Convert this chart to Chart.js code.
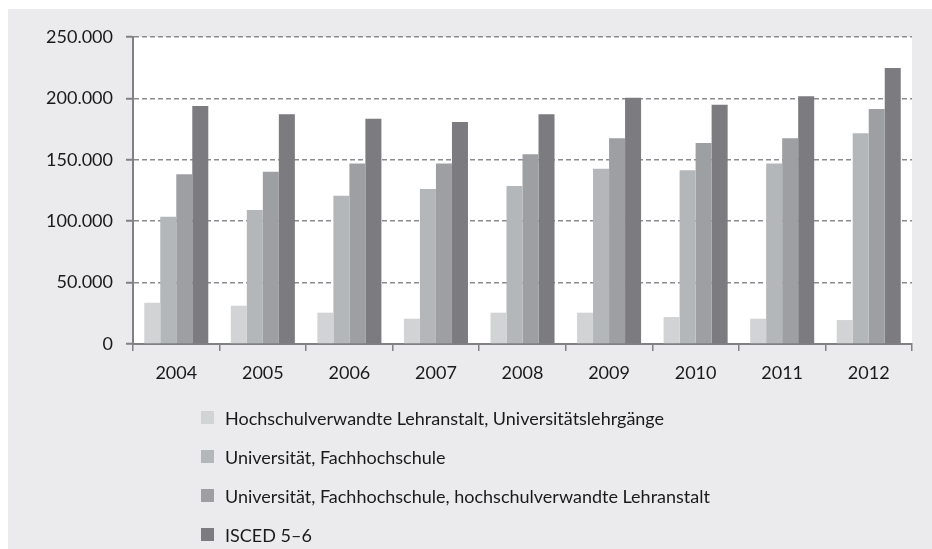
<!DOCTYPE html>
<html>
<head>
<meta charset="utf-8">
<script src="https://cdn.jsdelivr.net/npm/chart.js@4/dist/chart.umd.min.js"></script>
<style>
  html, body { margin: 0; padding: 0; background: #fff; }
  #wrap { position: relative; width: 932px; height: 549px; overflow: hidden; }
  #panel { position: absolute; left: 8px; top: 9px; right: 0; bottom: 0; background: #ebebed; }
  #chart { position: absolute; left: 0; top: 0; }
  #legend { position: absolute; left: 201px; top: 398px; font-family: Lato, sans-serif; font-size: 18px; color: #1a1a1a; }
  .item { height: 39px; display: flex; align-items: center; white-space: nowrap; }
  .box { width: 13px; height: 13px; margin-right: 11px; flex: none; }
</style>
</head>
<body>
<div id="wrap">
  <div id="panel"></div>
  <canvas id="chart" width="932" height="549"></canvas>
  <div id="legend"></div>
</div>
<script>
// Data
const years = ["2004", "2005", "2006", "2007", "2008", "2009", "2010", "2011", "2012"];
const seriesNames = [
  "Hochschulverwandte Lehranstalt, Universitätslehrgänge",
  "Universität, Fachhochschule",
  "Universität, Fachhochschule, hochschulverwandte Lehranstalt",
  "ISCED 5–6"
];
const lehranstalt = [33600, 31200, 25500, 20600, 25500, 25500, 22000, 20600, 19500];
const uniFh = [103700, 109100, 120800, 126200, 128700, 142800, 141400, 147000, 171600];
const uniFhLehr = [138200, 140300, 147000, 147000, 154500, 167500, 163700, 167500, 191400];
const isced = [193800, 187000, 183500, 180800, 187000, 200600, 194900, 201700, 224800];
const yTicks = [0, 50000, 100000, 150000, 200000, 250000];

const colors = ["#d1d3d4", "#b4b7ba", "#9d9fa3", "#7b7b80"];
const values = [lehranstalt, uniFh, uniFhLehr, isced];

Chart.defaults.font.family = "Lato, sans-serif";
Chart.defaults.font.size = 18;
Chart.defaults.color = "#1a1a1a";

// white plot area
const plotBg = {
  id: "plotBg",
  beforeDraw(chart) {
    const { ctx, chartArea: a } = chart;
    ctx.save();
    ctx.fillStyle = "#ffffff";
    ctx.fillRect(a.left, a.top, a.right - a.left, a.bottom - a.top);
    ctx.restore();
  }
};

const chart = new Chart(document.getElementById("chart"), {
  type: "bar",
  data: {
    labels: years,
    datasets: values.map((v, i) => ({
      label: seriesNames[i],
      data: v,
      backgroundColor: colors[i],
      borderWidth: 0,
      barPercentage: 1,
      categoryPercentage: 0.74
    }))
  },
  options: {
    responsive: false,
    animation: false,
    layout: { padding: { top: 37, right: 20, bottom: 165, left: 0 } },
    plugins: { legend: { display: false }, tooltip: { enabled: false } },
    scales: {
      x: {
        grid: {
          drawOnChartArea: false,
          offset: true,
          color: "#808085",
          lineWidth: 1.5,
          tickLength: 7
        },
        border: { color: "#808085", width: 2 },
        ticks: { padding: 11, maxRotation: 0 },
        afterFit: s => { s.height = 40; }
      },
      y: {
        min: 0,
        max: 250000,
        afterBuildTicks: s => { s.ticks = yTicks.map(v => ({ value: v })); },
        grid: {
          color: "#8c8c90",
          lineWidth: 1.5,
          tickLength: 7,
          tickColor: "#808085",
          tickWidth: 2,
          tickBorderDash: []
        },
        border: { color: "#808085", width: 2, dash: [5, 3] },
        ticks: {
          padding: 13,
          callback: v => v.toLocaleString("de-DE")
        },
        afterFit: s => { s.width = 133; }
      }
    }
  },
  plugins: [plotBg]
});

// Legend (one row per series)
const legendEl = document.getElementById("legend");
chart.data.datasets.forEach(ds => {
  const row = document.createElement("div");
  row.className = "item";
  const box = document.createElement("span");
  box.className = "box";
  box.style.background = ds.backgroundColor;
  const txt = document.createElement("span");
  txt.textContent = ds.label;
  row.appendChild(box);
  row.appendChild(txt);
  legendEl.appendChild(row);
});
</script>
</body>
</html>
